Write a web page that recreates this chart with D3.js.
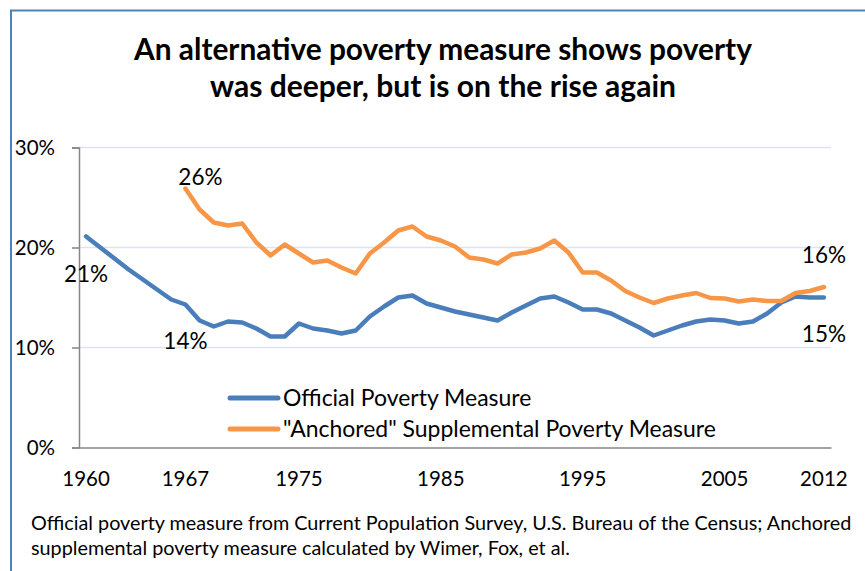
<!DOCTYPE html>
<html><head><meta charset="utf-8">
<script src="https://cdn.jsdelivr.net/npm/d3@7"></script>
<style>
html,body{margin:0;padding:0;background:#fff;}
svg{display:block;font-family:Lato,"Open Sans",sans-serif;}
</style></head>
<body>
<svg id="chart" width="865" height="571"></svg>
<script>
const years = d3.range(1960, 2013);
const official = [21.1,20.0,18.9,17.8,16.8,15.8,14.8,14.3,12.7,12.1,
  12.6,12.5,11.9,11.1,11.1,12.4,11.9,11.7,11.4,11.7,
  13.1,14.1,15.0,15.2,14.4,14.0,13.6,13.3,13.0,12.7,
  13.5,14.2,14.9,15.1,14.5,13.8,13.8,13.4,12.7,12.0,
  11.2,11.7,12.2,12.6,12.8,12.7,12.4,12.6,13.4,14.5,
  15.1,15.0,15.0];
const anchored = [null,null,null,null,null,null,null,25.9,23.8,22.5,
  22.2,22.4,20.5,19.2,20.3,19.4,18.5,18.7,18.0,17.4,
  19.4,20.5,21.7,22.1,21.1,20.7,20.1,19.0,18.8,18.4,
  19.3,19.5,19.9,20.7,19.5,17.5,17.5,16.7,15.65,15.0,
  14.45,14.9,15.2,15.45,14.95,14.9,14.6,14.8,14.65,14.65,
  15.45,15.65,16.05];
const xTickYears = [1960,1967,1975,1985,1995,2005,2012];
const yTicks = [0,10,20,30];
const seriesNames = ["Official Poverty Measure","\"Anchored\" Supplemental Poverty Measure"];
const colors = ["#4a7ebb","#f79646"];
const titleLines = ["An alternative poverty measure shows poverty","was deeper, but is on the rise again"];
const noteLines = ["Official poverty measure from Current Population Survey, U.S. Bureau of the Census; Anchored","supplemental poverty measure calculated by Wimer, Fox, et al."];
const labelYears = [1960,1967,1967,2012,2012];
const labelSeries = [0,1,0,1,0];
const labelTexts = ["21%","26%","14%","16%","15%"];

const svg = d3.select("#chart");
const x = d3.scaleBand().domain(years).range([79, 831]);
const xc = yr => x(yr) + x.bandwidth()/2;
const y = d3.scaleLinear().domain([0,30]).range([447.5,147.5]);

function fit(sel, target){
  const w = sel.node().getComputedTextLength();
  const fs = parseFloat(sel.attr("font-size"));
  const nf = fs*target/w;
  sel.attr("font-size", nf.toFixed(2));
  return nf;
}

// border
svg.append("path").attr("d","M11,571 V10.5 H865").attr("fill","none")
  .attr("stroke","#4f81bd").attr("stroke-width",2);

// title
const tl = [{t:titleLines[0], y:60, w:618},{t:titleLines[1], y:97, w:466}];
tl.forEach(d=>{
  const s = svg.append("text").attr("x",443).attr("y",d.y).attr("text-anchor","middle")
    .attr("font-weight","bold").attr("font-size",27).attr("fill","#000").text(d.t);
  fit(s, d.w);
});

// gridlines
svg.append("g").selectAll("line").data(yTicks.filter(t=>t>0)).join("line")
  .attr("x1",79).attr("x2",831).attr("y1",d=>y(d)).attr("y2",d=>y(d))
  .attr("stroke","#dce4f0").attr("stroke-width",1.5);

// y axis
const yAxis = d3.axisLeft(y).tickValues(yTicks).tickSize(7).tickFormat(d=>d+"%");
const gy = svg.append("g").attr("transform","translate(79,0)").call(yAxis);
gy.select(".domain").attr("stroke","#868686").attr("stroke-width",1.5);
gy.selectAll(".tick line").attr("stroke","#868686").attr("stroke-width",1.5);
gy.selectAll(".tick text").attr("font-size",20.5).attr("font-family","Lato").attr("fill","#000")
  .attr("x",-24).attr("dy","0.35em");

// x axis
const xAxis = d3.axisBottom(x).tickValues(xTickYears).tickSize(0).tickFormat(d=>String(d));
const gx = svg.append("g").attr("transform","translate(0,447.5)").call(xAxis);
gx.select(".domain").attr("stroke","#868686").attr("stroke-width",1.5);
gx.selectAll(".tick text").attr("font-size",20.5).attr("font-family","Lato").attr("fill","#000")
  .attr("y",31).attr("dy","0.35em");

// lines
const seriesData = [official, anchored];
const line = d3.line().defined(d=>d.v!=null).x(d=>xc(d.yr)).y(d=>y(d.v));
seriesData.forEach((arr,i)=>{
  svg.append("path").datum(years.map((yr,j)=>({yr, v:arr[j]})))
    .attr("fill","none").attr("stroke",colors[i]).attr("stroke-width",4.5)
    .attr("stroke-linejoin","round").attr("stroke-linecap","round").attr("d",line);
});

// data labels (offsets from point: dx, dy to baseline)
const labelOffsets = [[0,45],[15,-4],[0,44.5],[0,-24],[0,44]];
labelTexts.forEach((t,k)=>{
  const v = seriesData[labelSeries[k]][years.indexOf(labelYears[k])];
  svg.append("text").attr("x",xc(labelYears[k])+labelOffsets[k][0])
    .attr("y",y(v)+labelOffsets[k][1]).attr("text-anchor","middle")
    .attr("font-size",22.5).attr("fill","#000").text(t);
});

// legend
let legFs = 20;
seriesNames.forEach((n,i)=>{
  const ly = 398 + i*31;
  svg.append("line").attr("x1",230).attr("x2",278).attr("y1",ly).attr("y2",ly)
    .attr("stroke",colors[i]).attr("stroke-width",5).attr("stroke-linecap","round");
  svg.append("text").attr("class","legtext").attr("x",283).attr("y",ly).attr("dy","0.35em")
    .attr("font-size",20).attr("fill","#000").text(n);
});
const lt = svg.selectAll(".legtext");
legFs = fit(d3.select(lt.nodes()[1]), 433);
lt.attr("font-size", legFs.toFixed(2));

// footnote
const n0 = svg.append("text").attr("x",31).attr("y",523).attr("dy","0.35em")
  .attr("font-size",17).attr("fill","#000").text(noteLines[0]);
const nfs = fit(n0, 821);
svg.append("text").attr("x",31).attr("y",548).attr("dy","0.35em")
  .attr("font-size",nfs.toFixed(2)).attr("fill","#000").text(noteLines[1]);
</script>
</body></html>
